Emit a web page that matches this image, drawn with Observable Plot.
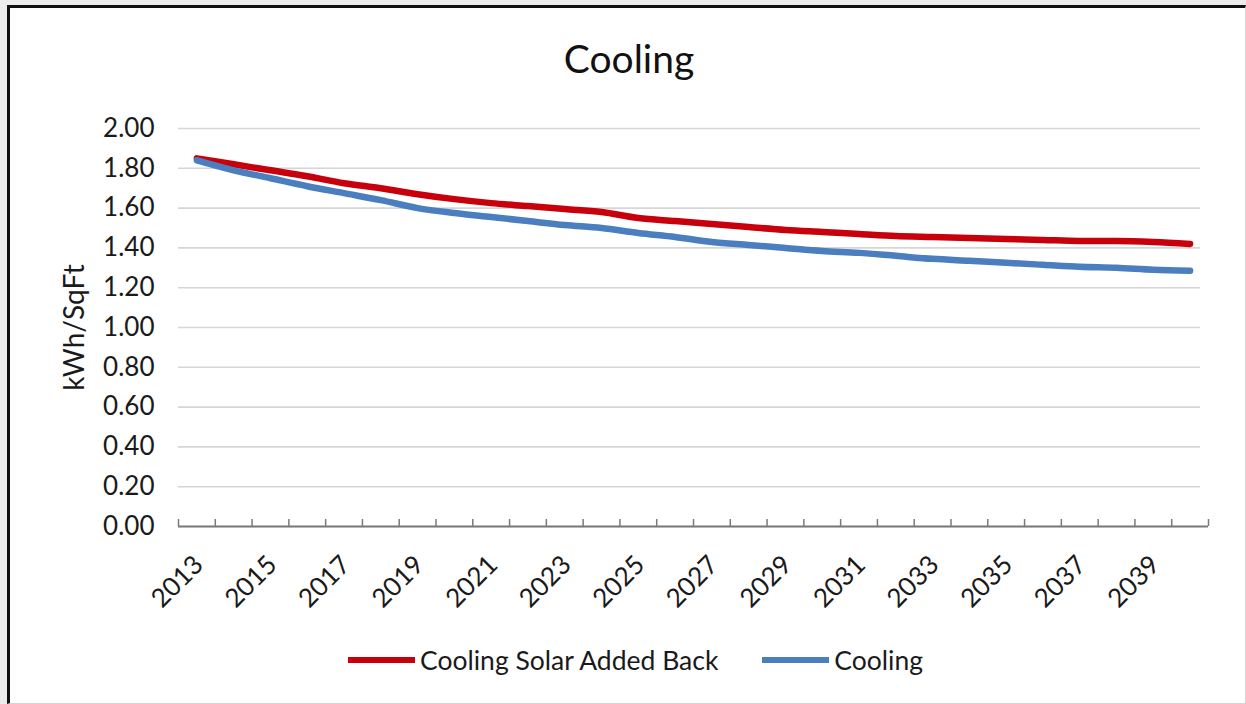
<!DOCTYPE html>
<html>
<head>
<meta charset="utf-8">
<script src="https://cdn.jsdelivr.net/npm/d3@7"></script>
<script src="https://cdn.jsdelivr.net/npm/@observablehq/plot@0.6"></script>
<style>
  html, body { margin: 0; padding: 0; }
  body { width: 1246px; height: 704px; overflow: hidden; background: #ececec; font-family: Lato, "Open Sans", sans-serif; color: #1a1a1a; position: relative; }
  #panel { position: absolute; left: 7px; top: 5px; width: 1239px; height: 699px; box-sizing: border-box; background: #fff;
           border-left: 3px solid #111; border-top: 3px solid #111; border-right: 1px solid #d4d4d4; border-bottom: 1px solid #d4d4d4; }
  #title { position: absolute; left: 0; top: 36px; width: 1258px; text-align: center; font-size: 39px; line-height: 44px; color: #111; }
  #chart { position: absolute; left: 0; top: 100px; }
  #legend { position: absolute; left: 348px; top: 645px; height: 30px; display: flex; align-items: center; font-size: 26.5px; color: #1a1a1a; white-space: nowrap; }
  #legend .sw { display: inline-block; width: 67px; height: 6px; margin-right: 5px; }
  #legend .item { display: flex; align-items: center; }
</style>
</head>
<body>
<div id="panel"></div>
<div id="title">Cooling</div>
<div id="chart"></div>
<div id="legend"></div>
<script>
// ---- data ----
const years = [2013, 2014, 2015, 2016, 2017, 2018, 2019, 2020, 2021, 2022, 2023, 2024, 2025, 2026,
               2027, 2028, 2029, 2030, 2031, 2032, 2033, 2034, 2035, 2036, 2037, 2038, 2039, 2040];
const coolingSolarAddedBack = [1.85, 1.82, 1.79, 1.76, 1.725, 1.70, 1.67, 1.645, 1.625, 1.61, 1.595, 1.58, 1.55, 1.535,
                               1.52, 1.505, 1.49, 1.48, 1.47, 1.46, 1.455, 1.45, 1.445, 1.44, 1.435, 1.435, 1.43, 1.42];
const cooling = [1.84, 1.79, 1.75, 1.71, 1.675, 1.64, 1.60, 1.575, 1.555, 1.535, 1.515, 1.50, 1.475, 1.455,
                 1.43, 1.415, 1.40, 1.385, 1.375, 1.36, 1.345, 1.335, 1.325, 1.315, 1.305, 1.30, 1.29, 1.285];
const seriesNames = ["Cooling Solar Added Back", "Cooling"];
const seriesColors = ["#c8000c", "#4a7ebf"];
const yTicks = [0, 0.2, 0.4, 0.6, 0.8, 1.0, 1.2, 1.4, 1.6, 1.8, 2.0];
const xLabelYears = [2013, 2015, 2017, 2019, 2021, 2023, 2025, 2027, 2029, 2031, 2033, 2035, 2037, 2039];
const titleText = "Cooling";
const yLabel = "kWh/SqFt";

// ---- derived tables ----
const rows = [];
years.forEach((yr, i) => {
  rows.push({year: yr, value: coolingSolarAddedBack[i], series: seriesNames[0]});
});
years.forEach((yr, i) => {
  rows.push({year: yr, value: cooling[i], series: seriesNames[1]});
});
// category boundaries (Excel tick marks between categories)
const bounds = [years[0] - 0.5, ...years.map(y => y + 0.5)];
const tickLen = 0.035;

document.getElementById("title").textContent = titleText;

const chart = Plot.plot({
  width: 1246,
  height: 520,
  marginLeft: 178,
  marginRight: 38,
  marginTop: 28,
  marginBottom: 94,
  style: {fontFamily: "Lato, 'Open Sans', sans-serif", fontSize: "26px", color: "#1a1a1a", background: "transparent", overflow: "visible"},
  x: {domain: [bounds[0], bounds[bounds.length - 1]], axis: null},
  y: {domain: [0, 2], ticks: yTicks, tickFormat: d => d.toFixed(2), tickSize: 0, tickPadding: 24, label: null},
  color: {domain: seriesNames, range: seriesColors},
  marks: [
    Plot.ruleY(yTicks, {stroke: "#d6d6d6", strokeWidth: 1.6, insetRight: 8}),
    Plot.ruleY([0], {stroke: "#7a7a7a", strokeWidth: 2}),
    Plot.ruleX(bounds, {x: d => d, y1: 0, y2: tickLen, stroke: "#7a7a7a", strokeWidth: 1.5}),
    Plot.text(xLabelYears, {x: d => d, y: 0, text: d => String(d), rotate: -45, textAnchor: "end", lineAnchor: "middle", dy: 34, dx: 2, fontSize: 26, fill: "#1a1a1a"}),
    Plot.text([yLabel], {frameAnchor: "left", text: d => d, rotate: -90, textAnchor: "middle", dx: -103, fontSize: 28, fill: "#1a1a1a"}),
    Plot.line(rows, {x: "year", y: "value", stroke: "series", z: "series", strokeWidth: 6.5, curve: "monotone-x", strokeLinecap: "round"})
  ]
});
document.getElementById("chart").appendChild(chart);

// legend
const legend = document.getElementById("legend");
seriesNames.forEach((name, i) => {
  const item = document.createElement("div");
  item.className = "item";
  if (i > 0) item.style.marginLeft = "44px";
  const sw = document.createElement("span");
  sw.className = "sw";
  sw.style.background = seriesColors[i];
  const t = document.createElement("span");
  t.textContent = name;
  item.appendChild(sw);
  item.appendChild(t);
  legend.appendChild(item);
});
</script>
</body>
</html>
